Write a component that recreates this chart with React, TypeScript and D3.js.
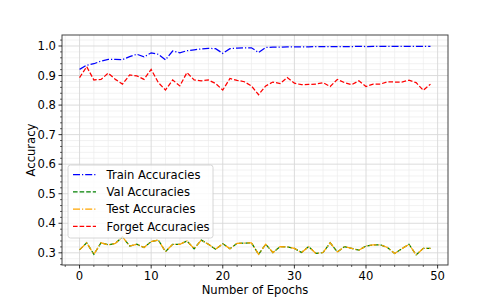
import React from "react";
import * as d3 from "d3";

const epochs: number[] = Array.from({ length: 50 }, (_, i) => i);

const trainAcc: number[] = [
  0.921, 0.935, 0.94, 0.949, 0.955, 0.955, 0.954, 0.964, 0.972, 0.963,
  0.977, 0.972, 0.953, 0.983, 0.977, 0.984, 0.987, 0.99, 0.992, 0.991,
  0.975, 0.991, 0.993, 0.994, 0.994, 0.978, 0.995, 0.996, 0.996, 0.997,
  0.997, 0.997, 0.997, 0.998, 0.998, 0.998, 0.998, 0.998, 0.998, 0.999,
  0.998, 0.999, 0.999, 0.999, 0.999, 0.999, 0.999, 0.999, 0.999, 0.999,
];

const valAcc: number[] = [
  0.31, 0.334, 0.295, 0.334, 0.327, 0.332, 0.354, 0.323, 0.329, 0.318,
  0.338, 0.343, 0.304, 0.329, 0.329, 0.34, 0.314, 0.343, 0.329, 0.312,
  0.331, 0.314, 0.332, 0.333, 0.334, 0.295, 0.329, 0.301, 0.321, 0.32,
  0.315, 0.301, 0.321, 0.298, 0.301, 0.334, 0.303, 0.321, 0.315, 0.309,
  0.323, 0.327, 0.327, 0.318, 0.298, 0.314, 0.329, 0.293, 0.315, 0.315,
];

const testAcc: number[] = [
  0.31, 0.334, 0.295, 0.334, 0.327, 0.332, 0.354, 0.323, 0.329, 0.318,
  0.338, 0.343, 0.304, 0.329, 0.329, 0.34, 0.314, 0.343, 0.329, 0.312,
  0.331, 0.314, 0.332, 0.333, 0.334, 0.295, 0.329, 0.301, 0.321, 0.32,
  0.315, 0.301, 0.321, 0.298, 0.301, 0.334, 0.303, 0.321, 0.315, 0.309,
  0.323, 0.327, 0.327, 0.318, 0.298, 0.314, 0.329, 0.293, 0.315, 0.315,
];

const forgetAcc: number[] = [
  0.893, 0.93, 0.885, 0.887, 0.908, 0.887, 0.871, 0.902, 0.899, 0.887,
  0.921, 0.876, 0.851, 0.885, 0.865, 0.91, 0.885, 0.882, 0.885, 0.873,
  0.851, 0.89, 0.884, 0.879, 0.865, 0.835, 0.865, 0.878, 0.873, 0.893,
  0.874, 0.869, 0.87, 0.871, 0.876, 0.863, 0.887, 0.876, 0.869, 0.882,
  0.863, 0.871, 0.871, 0.879, 0.878, 0.878, 0.884, 0.876, 0.85, 0.871,
];

const xTicks: number[] = [0, 10, 20, 30, 40, 50];
const yTicks: number[] = [0.3, 0.4, 0.5, 0.6, 0.7, 0.8, 0.9, 1.0];

const seriesNames: string[] = ["Train Accuracies", "Val Accuracies", "Test Accuracies", "Forget Accuracies"];
const seriesColors: string[] = ["#0000ff", "#008000", "#ffa500", "#ff0000"];
const seriesDash: string[] = ["7,2,1.2,2", "4.6,2", "7,2,1.2,2", "4.6,2"];

const W = 498;
const H = 299;
const L = 62, R = 448, T = 35, B = 265;
const FONT = "DejaVu Sans, sans-serif";
const FS = 11.6;

export default function App() {
  const x = d3.scaleLinear().domain([-2.45, 51.45]).range([L, R]);
  const y = d3.scaleLinear().domain([0.2588, 1.0372]).range([B, T]);

  const xMinor = d3.range(-2, 52, 2).filter((v) => x(v) >= L && x(v) <= R && v % 10 !== 0);
  const yMinor = d3.range(26, 104, 2).map((v) => v / 100).filter((v) => y(v) >= T && y(v) <= B && Math.round(v * 100) % 10 !== 0);

  const allSeries = [trainAcc, valAcc, testAcc, forgetAcc];
  const line = d3
    .line<number>()
    .x((_, i) => x(epochs[i]))
    .y((d) => y(d));

  const legX = 68, legY = 165, legW = 145, legH = 73;

  return (
    <svg width={W} height={H} style={{ position: "absolute", left: 0, top: 0, background: "#fff" }} fontFamily={FONT}>
      <rect x={0} y={0} width={W} height={H} fill="#fff" />
      {/* minor grid */}
      {xMinor.map((v) => (
        <line key={"xm" + v} x1={x(v)} x2={x(v)} y1={T} y2={B} stroke="#ececec" strokeWidth={0.7} />
      ))}
      {yMinor.map((v) => (
        <line key={"ym" + v} x1={L} x2={R} y1={y(v)} y2={y(v)} stroke="#ececec" strokeWidth={0.7} />
      ))}
      {/* major grid */}
      {xTicks.map((v) => (
        <line key={"xg" + v} x1={x(v)} x2={x(v)} y1={T} y2={B} stroke="#d8d8d8" strokeWidth={0.9} />
      ))}
      {yTicks.map((v) => (
        <line key={"yg" + v} x1={L} x2={R} y1={y(v)} y2={y(v)} stroke="#d8d8d8" strokeWidth={0.9} />
      ))}
      {/* series */}
      {allSeries.map((s, k) => (
        <path
          key={"s" + k}
          d={line(s) || ""}
          fill="none"
          stroke={seriesColors[k]}
          strokeWidth={1.25}
          strokeDasharray={seriesDash[k]}
        />
      ))}
      {/* spines */}
      <rect x={L} y={T} width={R - L} height={B - T} fill="none" stroke="#444" strokeWidth={1} />
      {/* ticks */}
      {xTicks.map((v) => (
        <g key={"xt" + v}>
          <line x1={x(v)} x2={x(v)} y1={B} y2={B + 3.5} stroke="#000" strokeWidth={0.8} />
          <text x={x(v)} y={B + 15} textAnchor="middle" fontSize={FS} fill="#000">
            {v}
          </text>
        </g>
      ))}
      {xMinor.map((v) => (
        <line key={"xmt" + v} x1={x(v)} x2={x(v)} y1={B} y2={B + 2} stroke="#000" strokeWidth={0.6} />
      ))}
      {yTicks.map((v) => (
        <g key={"yt" + v}>
          <line x1={L - 3.5} x2={L} y1={y(v)} y2={y(v)} stroke="#000" strokeWidth={0.8} />
          <text x={L - 6} y={y(v)} dy="0.36em" textAnchor="end" fontSize={FS} fill="#000">
            {v.toFixed(1)}
          </text>
        </g>
      ))}
      {yMinor.map((v) => (
        <line key={"ymt" + v} x1={L - 2} x2={L} y1={y(v)} y2={y(v)} stroke="#000" strokeWidth={0.6} />
      ))}
      {/* axis labels */}
      <text x={(L + R) / 2} y={294} textAnchor="middle" fontSize={FS} fill="#000">
        Number of Epochs
      </text>
      <text transform={`translate(35,${(T + B) / 2}) rotate(-90)`} textAnchor="middle" fontSize={FS} fill="#000">
        Accuracy
      </text>
      {/* legend */}
      <rect x={legX} y={legY} width={legW} height={legH} rx={2.5} fill="#fff" fillOpacity={0.8} stroke="#cccccc" strokeWidth={0.8} />
      {seriesNames.map((name, k) => {
        const ly = legY + 9.5 + k * 17.3;
        return (
          <g key={"lg" + k}>
            <line x1={73} x2={96} y1={ly} y2={ly} stroke={seriesColors[k]} strokeWidth={1.25} strokeDasharray={seriesDash[k]} />
            <text x={106.5} y={ly} dy="0.36em" fontSize={FS} fill="#000">
              {name}
            </text>
          </g>
        );
      })}
    </svg>
  );
}
